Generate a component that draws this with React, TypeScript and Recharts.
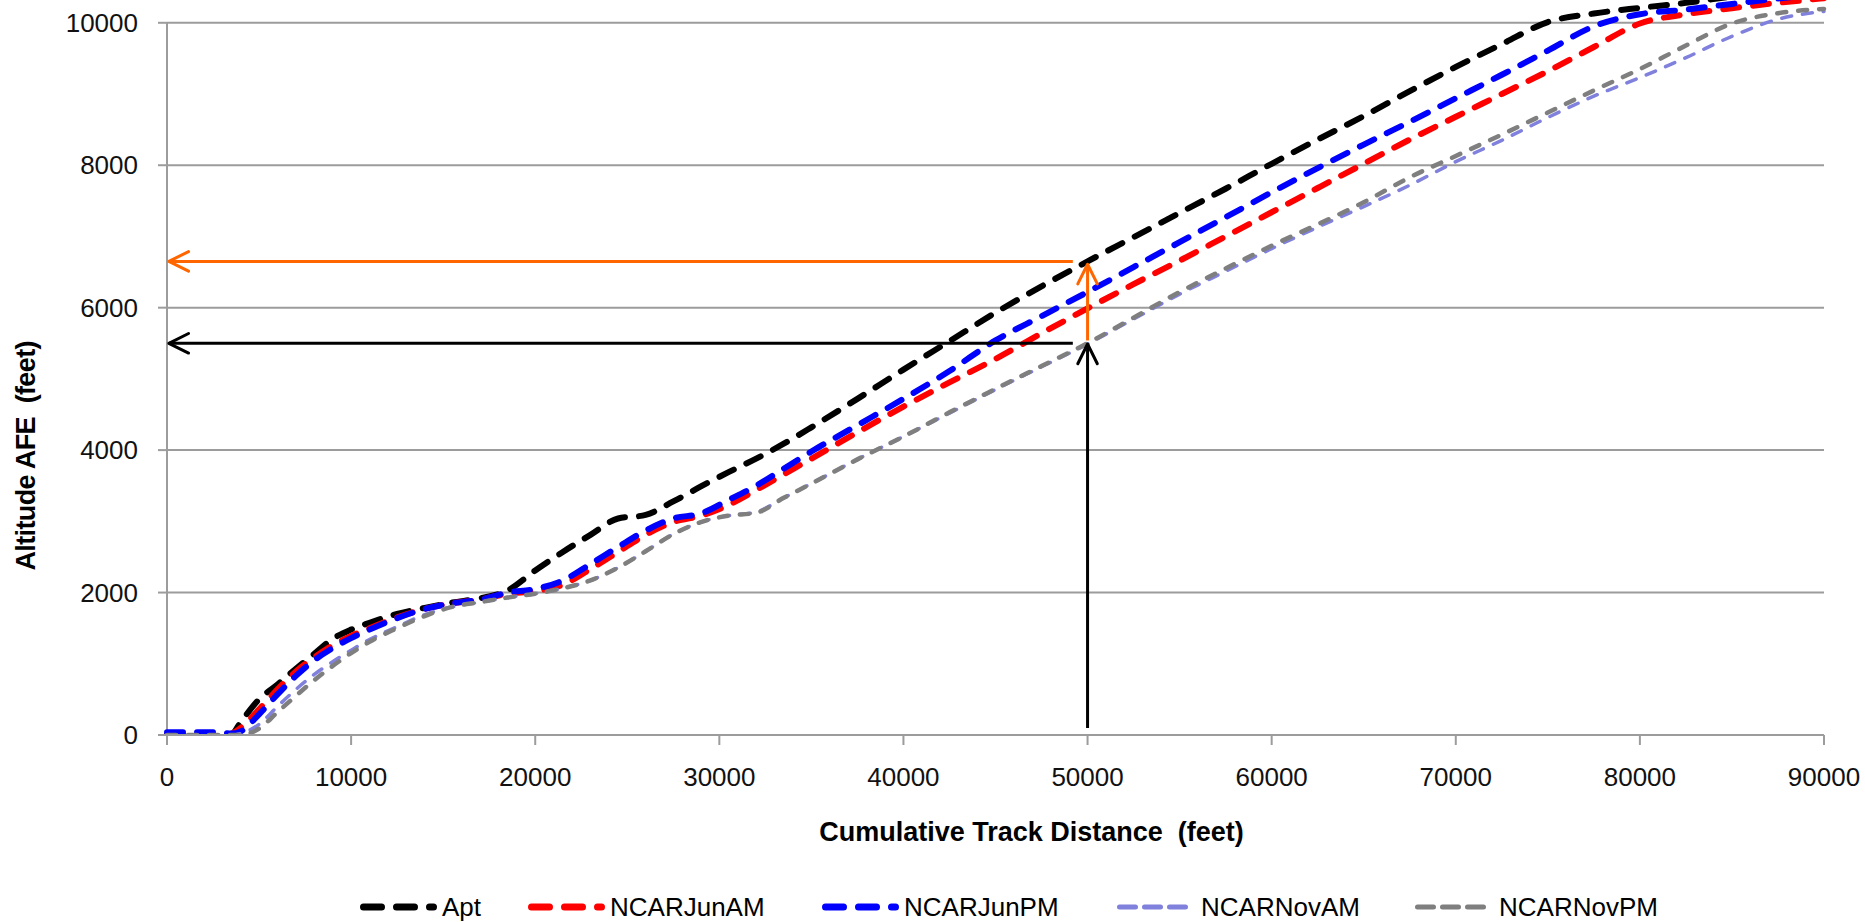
import React from 'react';
import {
  LineChart,
  Line,
  XAxis,
  YAxis,
  CartesianGrid,
  Legend,
  ReferenceLine,
  Label,
} from 'recharts';

const FONT = '"Liberation Sans", Arial, sans-serif';

// cumulative track distance (feet)
const distance = [
  0, 1000, 2000, 3000, 3500, 4000, 5000, 6000, 7000, 8000,
  9000, 10000, 11000, 12500, 14000, 15500, 17000, 18500, 20000, 21500,
  23000, 24500, 26000, 27500, 29000, 30500, 32000, 33500, 35000, 37500,
  40000, 42500, 45000, 47500, 50000, 52500, 55000, 57500, 60000, 62500,
  65000, 67500, 70000, 72500, 75000, 77500, 80000, 82500, 85000, 87500,
  90000,
];

// altitude AFE (feet) per profile
const apt = [
  0, 0, 0, 0, 10, 180, 500, 710, 930, 1140,
  1350, 1480, 1575, 1700, 1785, 1860, 1920, 2030, 2310, 2570,
  2810, 3040, 3090, 3280, 3490, 3690, 3880, 4090, 4320, 4720,
  5130, 5530, 5930, 6300, 6650, 6990, 7330, 7670, 8020, 8360,
  8690, 9040, 9380, 9700, 10010, 10130, 10210, 10280, 10370, 10450,
  10520,
];
const ncarJunAM = [
  0, 0, 0, 0, 20, 100, 360, 640, 890, 1090,
  1260, 1390, 1500, 1650, 1770, 1850, 1900, 1985, 2020, 2110,
  2330, 2570, 2810, 2990, 3080, 3230, 3440, 3660, 3880, 4250,
  4610, 4950, 5280, 5640, 5990, 6330, 6660, 7000, 7340, 7680,
  8020, 8360, 8680, 9000, 9320, 9660, 9990, 10120, 10205, 10280,
  10345,
];
const ncarJunPM = [
  40, 40, 40, 30, 20, 50, 290, 570, 830, 1050,
  1220, 1360, 1480, 1640, 1770, 1850, 1900, 2000, 2050, 2170,
  2400, 2640, 2870, 3040, 3110, 3300, 3500, 3740, 3980, 4350,
  4720, 5110, 5540, 5880, 6220, 6570, 6920, 7270, 7620, 7960,
  8290, 8610, 8940, 9270, 9610, 9950, 10120, 10185, 10265, 10340,
  10410,
];
const ncarNovAM = [
  0, 0, 0, 0, 0, 20, 150, 400, 640, 850,
  1030, 1190, 1340, 1520, 1690, 1800, 1865, 1930, 1985, 2060,
  2170, 2350, 2580, 2820, 2990, 3080, 3130, 3330, 3530, 3870,
  4190, 4520, 4850, 5170, 5490, 5840, 6190, 6510, 6830, 7130,
  7420, 7720, 8050, 8350, 8670, 8970, 9230, 9510, 9810, 10050,
  10160,
];
const ncarNovPM = [
  0, 0, 0, 0, 0, 0, 90, 320, 550, 770,
  970, 1150, 1310, 1500, 1670, 1800, 1865, 1930, 1985, 2060,
  2170, 2350, 2580, 2820, 2990, 3080, 3120, 3330, 3530, 3870,
  4190, 4530, 4860, 5180, 5500, 5860, 6220, 6550, 6870, 7170,
  7480, 7830, 8130, 8430, 8740, 9050, 9350, 9680, 9990, 10135,
  10195,
];

const xTicks = [0, 10000, 20000, 30000, 40000, 50000, 60000, 70000, 80000, 90000];
const yTicks = [0, 2000, 4000, 6000, 8000, 10000];

// annotation arrows (data units): from -> tip
const arrows = [
  { from: { x: 49200, y: 6650 }, to: { x: 100, y: 6650 }, color: '#FF6600' },
  { from: { x: 50000, y: 5540 }, to: { x: 50000, y: 6610 }, color: '#FF6600' },
  { from: { x: 49200, y: 5500 }, to: { x: 100, y: 5500 }, color: '#000000' },
  { from: { x: 50000, y: 100 }, to: { x: 50000, y: 5490 }, color: '#000000' },
];

const series = [
  { key: 'apt', name: 'Apt', color: '#000000', width: 6, dash: '16 14', thick: true, values: apt },
  { key: 'junAM', name: 'NCARJunAM', color: '#FF0000', width: 6, dash: '16 14', thick: true, values: ncarJunAM },
  { key: 'junPM', name: 'NCARJunPM', color: '#0000FF', width: 6, dash: '16 14', thick: true, values: ncarJunPM },
  { key: 'novAM', name: 'NCARNovAM', color: '#8080DD', width: 3.5, dash: '10 11', thick: false, values: ncarNovAM },
  { key: 'novPM', name: 'NCARNovPM', color: '#7F7F7F', width: 4.5, dash: '9 12', thick: false, values: ncarNovPM },
];

// left edge of each legend entry, px
const legendLeft = [360, 528, 822, 1117, 1415];

const chartData = distance.map((d, i) => {
  const row: Record<string, number> = { d };
  series.forEach((s) => {
    row[s.key] = s.values[i];
  });
  return row;
});

// line + open arrowhead at the second point
const ArrowShape = (props: any) => {
  const { x1, y1, x2, y2, stroke } = props;
  const ang = Math.atan2(y2 - y1, x2 - x1);
  const len = 22;
  const spread = 0.46;
  const ax = x2 - len * Math.cos(ang - spread);
  const ay = y2 - len * Math.sin(ang - spread);
  const bx = x2 - len * Math.cos(ang + spread);
  const by = y2 - len * Math.sin(ang + spread);
  return (
    <g>
      <line x1={x1} y1={y1} x2={x2} y2={y2} stroke={stroke} strokeWidth={3} />
      <polyline
        points={`${ax},${ay} ${x2},${y2} ${bx},${by}`}
        fill="none"
        stroke={stroke}
        strokeWidth={3}
        strokeLinecap="round"
        strokeLinejoin="round"
      />
    </g>
  );
};

const LegendIcon = ({ color, thick }: { color: string; thick: boolean }) =>
  thick ? (
    <svg width={78} height={14}>
      <line x1={3.5} y1={7} x2={73.5} y2={7} stroke={color} strokeWidth={7} strokeDasharray="18 15" strokeLinecap="round" />
    </svg>
  ) : (
    <svg width={72} height={14}>
      <line x1={2.5} y1={7} x2={68.5} y2={7} stroke={color} strokeWidth={5} strokeDasharray="16 9" strokeLinecap="round" />
    </svg>
  );

const renderLegend = () => (
  <div
    style={{
      position: 'relative',
      height: 34,
      fontFamily: FONT,
      fontSize: 26,
      color: '#000',
    }}
  >
    {series.map((s, i) => (
      <div
        key={s.key}
        style={{
          position: 'absolute',
          left: legendLeft[i],
          top: 0,
          height: 34,
          display: 'flex',
          alignItems: 'center',
          whiteSpace: 'nowrap',
        }}
      >
        <LegendIcon color={s.color} thick={s.thick} />
        <span style={{ marginLeft: s.thick ? 4 : 12 }}>{s.name}</span>
      </div>
    ))}
  </div>
);

const XTitle = (props: any) => {
  const vb = props.viewBox;
  return (
    <text
      x={vb.x + vb.width / 2 + 36}
      y={vb.y + 97}
      textAnchor="middle"
      dominantBaseline="central"
      fontFamily={FONT}
      fontSize={27}
      fontWeight="bold"
      fill="#000"
      style={{ whiteSpace: 'pre' }}
    >
      {'Cumulative Track Distance  (feet)'}
    </text>
  );
};

const YTitle = (props: any) => {
  const vb = props.viewBox;
  const cx = vb.x + 26;
  const cy = vb.y + vb.height / 2 + 88;
  return (
    <text
      x={cx}
      y={cy}
      transform={`rotate(-90 ${cx} ${cy})`}
      textAnchor="middle"
      dominantBaseline="central"
      fontFamily={FONT}
      fontSize={27}
      fontWeight="bold"
      fill="#000"
      textLength={230}
      lengthAdjust="spacing"
      style={{ whiteSpace: 'pre' }}
    >
      {'Altitude AFE  (feet)'}
    </text>
  );
};

export default function App() {
  return (
    <div style={{ position: 'absolute', left: 0, top: 0, background: '#fff' }}>
      <LineChart
        width={1865}
        height={922}
        data={chartData}
        margin={{ top: 0, right: 41, bottom: 0, left: 0 }}
      >
        <CartesianGrid vertical={false} syncWithTicks stroke="#9c9c9c" strokeWidth={2} />

        <XAxis
          type="number"
          dataKey="d"
          domain={[0, 90000]}
          ticks={xTicks}
          interval={0}
          height={187}
          tickSize={10}
          tickMargin={23}
          axisLine={{ stroke: '#9c9c9c', strokeWidth: 2 }}
          tickLine={{ stroke: '#9c9c9c', strokeWidth: 2 }}
          tick={{ fill: '#111', fontSize: 26, fontFamily: FONT }}
        >
          <Label content={XTitle} />
        </XAxis>

        <YAxis
          type="number"
          domain={[0, 10320]}
          allowDataOverflow
          ticks={yTicks}
          interval={0}
          width={167}
          tickSize={9}
          tickMargin={20}
          axisLine={false}
          tickLine={{ stroke: '#9c9c9c', strokeWidth: 2 }}
          tick={{ fill: '#111', fontSize: 26, fontFamily: FONT }}
        >
          <Label content={YTitle} />
        </YAxis>

        {/* y axis line stops at the top tick */}
        <ReferenceLine
          segment={[{ x: 0, y: 0 }, { x: 0, y: 10000 }]}
          stroke="#9c9c9c"
          strokeWidth={2}
        />

        {series.map((s) => (
          <Line
            key={s.key}
            type="monotone"
            dataKey={s.key}
            name={s.name}
            stroke={s.color}
            strokeWidth={s.width}
            strokeDasharray={s.dash}
            strokeLinecap="round"
            dot={false}
            activeDot={false}
            isAnimationActive={false}
          />
        ))}

        {arrows.map((a, i) => (
          <ReferenceLine
            key={i}
            segment={[a.from, a.to]}
            stroke={a.color}
            strokeWidth={3}
            shape={ArrowShape}
          />
        ))}

        <Legend
          layout="horizontal"
          verticalAlign="middle"
          align="center"
          content={renderLegend}
          wrapperStyle={{ left: 0, top: 890, width: 1865, height: 34 }}
        />
      </LineChart>
    </div>
  );
}
